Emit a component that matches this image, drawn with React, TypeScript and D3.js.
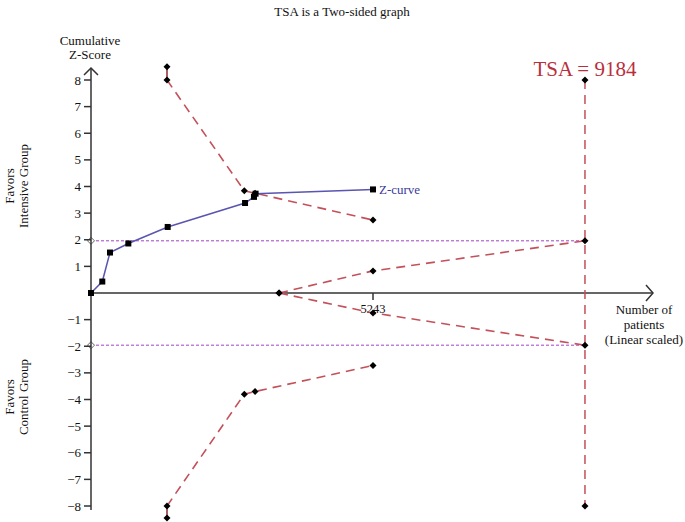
import React from "react";
import * as d3 from "d3";

// ---- data ----
const zPatients = [0, 210, 353, 694, 1426, 2864, 3030, 3060, 5243];
const zValues = [0, 0.43, 1.52, 1.86, 2.48, 3.38, 3.61, 3.73, 3.89];

const effPatients = [1413, 2850, 3050, 5243];
const effUpper = [8.0, 3.84, 3.75, 2.74];
const effLower = [-8.0, -3.8, -3.7, -2.72];
const effTopUpper = 8.5;
const effTopLower = -8.45;

const futPatients = [3496, 5243, 9184];
const futUpper = [0, 0.83, 1.96];
const futLower = [0, -0.75, -1.96];

const tsaValue = 9184;
const conventional = [1.96, -1.96];
const yTicks = [8, 7, 6, 5, 4, 3, 2, 1, -1, -2, -3, -4, -5, -6, -7, -8];
const xTicks = [5243];

const W = 685;
const H = 522;

const x = d3.scaleLinear().domain([0, 5243]).range([91, 373]);
const y = d3.scaleLinear().domain([-8, 8]).range([506, 80]);

const RED = "#c4505a";
const DARKRED = "#8c2a30";
const BLUE = "#5a55b0";
const PURPLE = "#a040c8";
const AXIS = "#333";
const FONT = "Liberation Serif, Times New Roman, DejaVu Serif, serif";

const line = d3
  .line<[number, number]>()
  .x((d) => x(d[0]))
  .y((d) => y(d[1]));

const Diamond = ({ cx, cy, r = 3.5, fill = "#000", stroke = "none" }: any) => (
  <path
    d={`M${cx},${cy - r}L${cx + r},${cy}L${cx},${cy + r}L${cx - r},${cy}Z`}
    fill={fill}
    stroke={stroke}
  />
);

const T = ({ children, style, ...rest }: any) => (
  <text {...rest} style={{ fontFamily: FONT, ...(style || {}) }}>
    {children}
  </text>
);

export default function App() {
  const zPts: [number, number][] = zPatients.map((p, i) => [p, zValues[i]]);
  const upPts: [number, number][] = effPatients.map((p, i) => [p, effUpper[i]]);
  const loPts: [number, number][] = effPatients.map((p, i) => [p, effLower[i]]);
  const fuPts: [number, number][] = futPatients.map((p, i) => [p, futUpper[i]]);
  const flPts: [number, number][] = futPatients.map((p, i) => [p, futLower[i]]);
  const x0 = x(0);
  const y0 = y(0);
  const xt = x(tsaValue);

  return (
    <svg
      width={W}
      height={H}
      style={{ position: "absolute", left: 0, top: 0, background: "#fff", fontFamily: FONT }}
    >
      <rect width={W} height={H} fill="#fff" />
      <T x={342} y={16} fontSize={13} textAnchor="middle" fill="#111">
        TSA is a Two-sided graph
      </T>

      {/* Y axis title */}
      <T x={90} y={45} fontSize={13} textAnchor="middle" fill="#111">
        Cumulative
      </T>
      <T x={90} y={59} fontSize={13} textAnchor="middle" fill="#111">
        Z-Score
      </T>

      {/* side labels */}
      <g transform="translate(14,186) rotate(-90)">
        <T x={0} y={0} fontSize={13} textAnchor="middle" fill="#111">
          Favors
        </T>
        <T x={0} y={14} fontSize={13} textAnchor="middle" fill="#111">
          Intensive Group
        </T>
      </g>
      <g transform="translate(14,397) rotate(-90)">
        <T x={0} y={0} fontSize={13} textAnchor="middle" fill="#111">
          Favors
        </T>
        <T x={0} y={14} fontSize={13} textAnchor="middle" fill="#111">
          Control Group
        </T>
      </g>

      {/* conventional boundaries */}
      {conventional.map((c) => (
        <g key={c}>
          <line
            x1={x0}
            x2={xt}
            y1={y(c)}
            y2={y(c)}
            stroke={PURPLE}
            strokeWidth={1}
            strokeDasharray="3,2"
          />
          <Diamond cx={x0} cy={y(c)} r={3.5} fill="#fff" stroke="#666" />
        </g>
      ))}

      {/* Axes */}
      <line x1={x0} x2={x0} y1={68} y2={510} stroke={AXIS} strokeWidth={1.5} />
      <path
        d={`M${x0 - 7},${75}L${x0},${68}L${x0 + 7},${75}`}
        fill="none"
        stroke={AXIS}
        strokeWidth={1.5}
      />
      {yTicks.map((t) => (
        <g key={t}>
          <line x1={x0 - 7} x2={x0} y1={y(t)} y2={y(t)} stroke={AXIS} strokeWidth={1.5} />
          <T x={81} y={y(t)} dy="0.35em" fontSize={13} textAnchor="end" fill="#111">
            {t < 0 ? `\u2212${-t}` : t}
          </T>
        </g>
      ))}
      <line x1={x0} x2={653} y1={y0} y2={y0} stroke={AXIS} strokeWidth={1.5} />
      <path
        d={`M${646},${y0 - 8}L${653},${y0}L${646},${y0 + 8}`}
        fill="none"
        stroke={AXIS}
        strokeWidth={1.5}
      />
      {xTicks.map((t) => (
        <g key={t}>
          <line x1={x(t)} x2={x(t)} y1={y0} y2={y0 + 7} stroke={AXIS} strokeWidth={1.5} />
          <T x={x(t)} y={y0 + 20} fontSize={12.5} textAnchor="middle" fill="#111">
            {t}
          </T>
        </g>
      ))}
      <T x={644} y={314} fontSize={13} textAnchor="middle" fill="#111">
        Number of
      </T>
      <T x={644} y={329} fontSize={13} textAnchor="middle" fill="#111">
        patients
      </T>
      <T x={644} y={344} fontSize={13} textAnchor="middle" fill="#111">
        (Linear scaled)
      </T>

      {/* TSA vertical */}
      <line
        x1={xt}
        x2={xt}
        y1={y(8)}
        y2={y(-8)}
        stroke={RED}
        strokeWidth={1.5}
        strokeDasharray="9,6"
      />
      <T x={xt} y={76} fontSize={21} textAnchor="middle" fill="#b8303c">
        TSA = {tsaValue}
      </T>

      {/* efficacy boundaries */}
      <line
        x1={x(effPatients[0])}
        x2={x(effPatients[0])}
        y1={y(effTopUpper)}
        y2={y(effUpper[0])}
        stroke={DARKRED}
        strokeWidth={1.5}
      />
      <line
        x1={x(effPatients[0])}
        x2={x(effPatients[0])}
        y1={y(effTopLower)}
        y2={y(effLower[0])}
        stroke={DARKRED}
        strokeWidth={1.5}
      />
      <path d={line(upPts) || ""} fill="none" stroke={RED} strokeWidth={1.6} strokeDasharray="9,6" />
      <path d={line(loPts) || ""} fill="none" stroke={RED} strokeWidth={1.6} strokeDasharray="9,6" />
      <path d={line(fuPts) || ""} fill="none" stroke={RED} strokeWidth={1.6} strokeDasharray="9,6" />
      <path d={line(flPts) || ""} fill="none" stroke={RED} strokeWidth={1.6} strokeDasharray="9,6" />

      {/* Z-curve */}
      <path d={line(zPts) || ""} fill="none" stroke={BLUE} strokeWidth={1.5} />
      {zPts.map((p, i) => (
        <rect key={i} x={x(p[0]) - 3} y={y(p[1]) - 3} width={6} height={6} fill="#000" />
      ))}
      <T
        x={x(zPatients[zPatients.length - 1]) + 6}
        y={y(zValues[zValues.length - 1])}
        dy="0.35em"
        fontSize={13}
        fill="#3a3a9a"
      >
        Z-curve
      </T>

      {/* boundary markers */}
      {upPts.concat(loPts).map((p, i) => (
        <Diamond key={"e" + i} cx={x(p[0])} cy={y(p[1])} />
      ))}
      <Diamond cx={x(effPatients[0])} cy={y(effTopUpper)} />
      <Diamond cx={x(effPatients[0])} cy={y(effTopLower)} />
      {fuPts.concat(flPts).map((p, i) => (
        <Diamond key={"f" + i} cx={x(p[0])} cy={y(p[1])} />
      ))}
      <Diamond cx={xt} cy={y(8)} />
      <Diamond cx={xt} cy={y(-8)} />
    </svg>
  );
}
